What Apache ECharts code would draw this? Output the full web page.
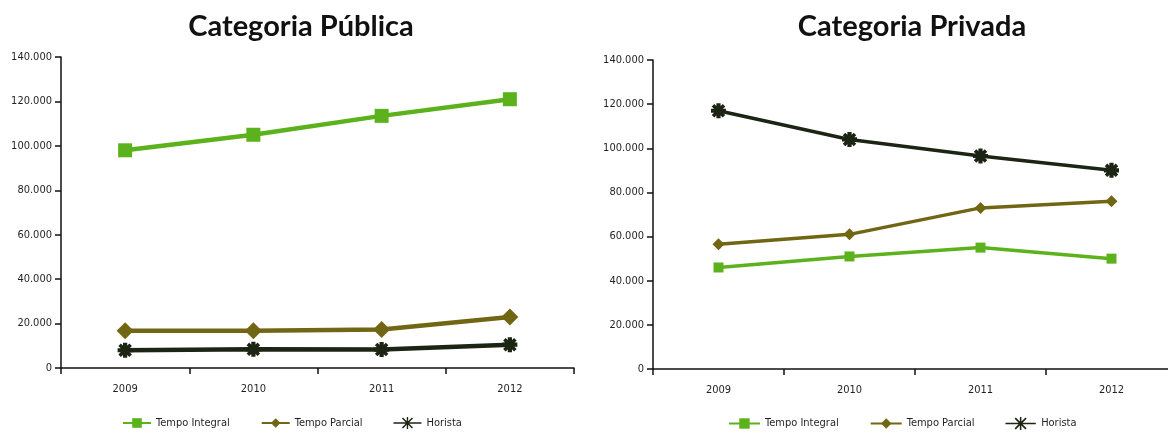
<!DOCTYPE html>
<html>
<head>
<meta charset="utf-8">
<script src="https://cdn.jsdelivr.net/npm/echarts@6/dist/echarts.min.js"></script>
<style>
  html, body { margin: 0; padding: 0; background: #fff; }
  #chart { width: 1168px; height: 435px; }
</style>
</head>
<body>
<div id="chart"></div>
<script>
// Years on the horizontal axis
const years = ['2009', '2010', '2011', '2012'];
const seriesNames = ['Tempo Integral', 'Tempo Parcial', 'Horista'];

// Categoria Pública
const publicaIntegral = [98000, 105000, 113500, 121000];
const publicaParcial  = [16800, 16800, 17300, 23000];
const publicaHorista  = [8000, 8400, 8300, 10500];

// Categoria Privada
const privadaIntegral = [46000, 51000, 55000, 50000];
const privadaParcial  = [56500, 61000, 73000, 76000];
const privadaHorista  = [117000, 104000, 96500, 90000];

const titles = ['Categoria Pública', 'Categoria Privada'];

const GREEN = '#5cb21c';
const OLIVE = '#716613';
const DARK  = '#1c2413';
const TEXT  = '#231f20';
const NARROW = '"Liberation Sans Narrow", "DejaVu Sans Condensed", sans-serif';

// Thick eight-spoke asterisk used as the Horista marker
const asterisk = 'path://M36 0L64 0L64 100L36 100Z M0 36L100 36L100 64L0 64Z ' +
  'M5 22L22 5L95 78L78 95Z M78 5L95 22L22 95L5 78Z';
// Thin line-plus-asterisk legend icon
const asteriskIcon = 'path://M0 5.3L28 5.3L28 6.7L0 6.7Z M13.3 0L14.7 0L14.7 12L13.3 12Z ' +
  'M8.47 1.53L9.53 0.47L19.53 10.47L18.47 11.53Z M18.47 0.47L19.53 1.53L9.53 11.53L8.47 10.47Z';

const grids = [
  { left: 61, width: 513, top: 57, height: 311, outerBoundsMode: 'none' },
  { left: 653, width: 524, top: 60, height: 309, outerBoundsMode: 'none' }
];

function xAxis(i) {
  return {
    type: 'category', gridIndex: i, data: years, boundaryGap: true,
    axisLine: { lineStyle: { color: '#111', width: 1.5 } },
    axisTick: { show: true, length: 6, lineStyle: { color: '#111', width: 1.5 } },
    axisLabel: { color: TEXT, fontFamily: NARROW, fontSize: 11, margin: 16 },
    splitLine: { show: false }
  };
}
function yAxis(i) {
  return {
    type: 'value', gridIndex: i, min: 0, max: 140000, interval: 20000,
    axisLine: { show: true, lineStyle: { color: '#111', width: 1.5 } },
    axisTick: { show: true, length: 6, lineStyle: { color: '#111', width: 1.5 } },
    axisLabel: {
      color: TEXT, fontFamily: NARROW, fontSize: 11, margin: 9,
      formatter: v => v === 0 ? '0' : (v / 1000).toFixed(0) + '.000'
    },
    splitLine: { show: false }
  };
}

function line(name, data, i, color, symbol, size, width) {
  return {
    name, type: 'line', xAxisIndex: i, yAxisIndex: i, data,
    symbol, symbolSize: size, showSymbol: true,
    lineStyle: { color, width },
    itemStyle: { color },
    emphasis: { disabled: true },
    animation: false
  };
}

function legend(left, w, h) {
  return {
    left, top: 417, padding: 0, itemWidth: w, itemHeight: h, itemGap: 31,
    textStyle: { color: TEXT, fontFamily: NARROW, fontSize: 11 },
    lineStyle: { width: 2 },
    data: [
      { name: seriesNames[0] },
      { name: seriesNames[1] },
      { name: seriesNames[2], icon: asteriskIcon, itemStyle: { color: DARK } }
    ]
  };
}

const chart = echarts.init(document.getElementById('chart'), null, { renderer: 'canvas' });
chart.setOption({
  backgroundColor: '#fff',
  animation: false,
  title: [
    { text: titles[0], left: 296, top: 7, textAlign: 'center',
      textStyle: { fontFamily: 'Lato, sans-serif', fontWeight: 'bold', fontSize: 29, color: '#111' } },
    { text: titles[1], left: 907, top: 7, textAlign: 'center',
      textStyle: { fontFamily: 'Lato, sans-serif', fontWeight: 'bold', fontSize: 29, color: '#111' } }
  ],
  grid: grids,
  xAxis: [xAxis(0), xAxis(1)],
  yAxis: [yAxis(0), yAxis(1)],
  legend: [legend(122, 28, 12), legend(728, 31, 13)],
  series: [
    line(seriesNames[0], publicaIntegral, 0, GREEN, 'rect', 14, 4.5),
    line(seriesNames[1], publicaParcial, 0, OLIVE, 'diamond', 17, 4.5),
    line(seriesNames[2], publicaHorista, 0, DARK, asterisk, 15, 4.5),
    line(seriesNames[0], privadaIntegral, 1, GREEN, 'rect', 10, 3.5),
    line(seriesNames[1], privadaParcial, 1, OLIVE, 'diamond', 12, 3.5),
    line(seriesNames[2], privadaHorista, 1, DARK, asterisk, 15, 3.5)
  ]
});
</script>
</body>
</html>
